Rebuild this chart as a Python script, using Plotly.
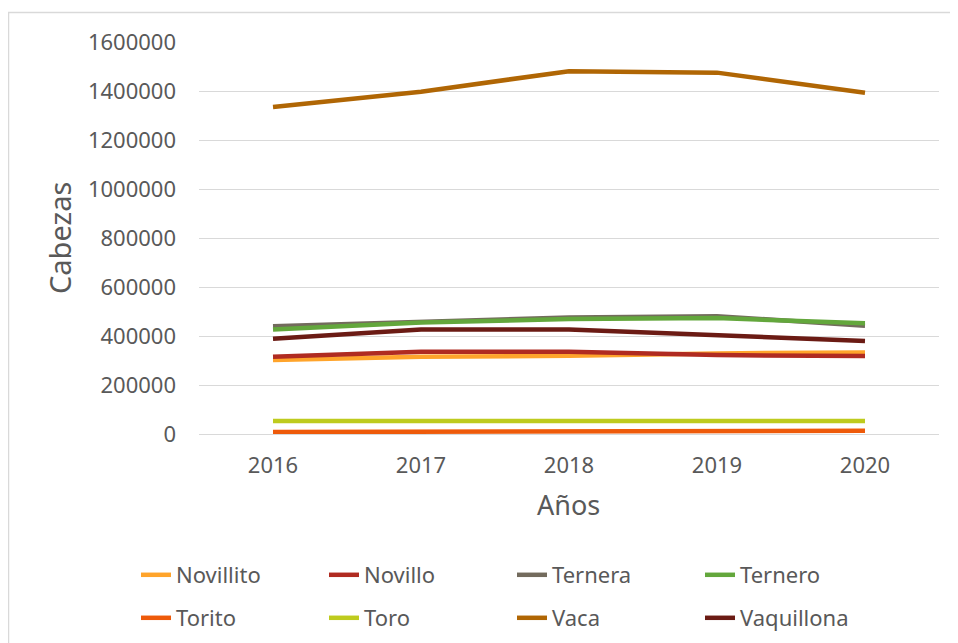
import plotly.graph_objects as go

years = ["2016", "2017", "2018", "2019", "2020"]

novillito = [302000, 315000, 319000, 329000, 333000]
novillo = [315000, 336000, 336000, 322000, 318000]
ternera = [440000, 458000, 476000, 481000, 442000]
ternero = [427000, 455000, 469000, 473000, 452000]
torito = [8000, 9000, 11000, 12000, 13000]
toro = [53000, 53000, 54500, 54000, 53000]
vaca = [1335000, 1397000, 1481000, 1475000, 1393000]
vaquillona = [389000, 427000, 427000, 404000, 380000]

series = [
    ("Novillito", novillito, "#FFA42B", "legend"),
    ("Novillo", novillo, "#B02B21", "legend"),
    ("Ternera", ternera, "#736B5D", "legend"),
    ("Ternero", ternero, "#63A73C", "legend"),
    ("Torito", torito, "#EE5A0A", "legend2"),
    ("Toro", toro, "#BECB1E", "legend2"),
    ("Vaca", vaca, "#B06604", "legend2"),
    ("Vaquillona", vaquillona, "#6B1B14", "legend2"),
]

font_family = "Noto Sans, Lato, sans-serif"
text_color = "#595959"
grid_color = "#D9D9D9"

fig = go.Figure()
for name, vals, color, lg in series:
    fig.add_trace(go.Scatter(
        x=years, y=vals, name=name, mode="lines",
        line=dict(color=color, width=4.5),
        legend=lg,
    ))

# page is offset by the 8px body margin
OFF = 8
W, H = 950, 635
L, T = 199 - OFF, 42 - OFF
pw, ph = 740, 392
R, B = W - L - pw, H - T - ph


def px(x):
    return (x - OFF - L) / pw


def py(y):
    return (H - B - (y - OFF)) / ph


legend_common = dict(
    orientation="h", xanchor="left", yanchor="middle",
    font=dict(family=font_family, size=22, color=text_color),
    entrywidth=143, entrywidthmode="pixels",
    bgcolor="rgba(0,0,0,0)", itemwidth=30,
)

fig.update_layout(
    width=W, height=H,
    margin=dict(l=L, r=R, t=T, b=B, autoexpand=False),
    paper_bgcolor="white", plot_bgcolor="white",
    font=dict(family=font_family, color=text_color),
    xaxis=dict(
        type="category", range=[-0.5, 4.5],
        showgrid=False, showline=False, zeroline=False,
        tickfont=dict(family=font_family, size=22, color=text_color),
        ticks="", ticklabelstandoff=16, automargin=False,
    ),
    yaxis=dict(
        range=[0, 1600000], dtick=200000, tickformat="d",
        showgrid=True, gridcolor=grid_color, gridwidth=1.3,
        zeroline=True, zerolinecolor=grid_color, zerolinewidth=1.3,
        showline=False, automargin=False,
        tickfont=dict(family=font_family, size=22, color=text_color),
        ticks="", ticklabelstandoff=22,
    ),
    legend=dict(x=px(136), y=py(575), **legend_common),
    legend2=dict(x=px(136), y=py(618), **legend_common),
    annotations=[
        dict(text="Cabezas", xref="paper", yref="paper",
             x=px(59), y=py(238), xanchor="center", yanchor="middle",
             textangle=-90, showarrow=False,
             font=dict(family=font_family, size=29, color=text_color)),
        dict(text="Años", xref="paper", yref="paper",
             x=px(568), y=py(504), xanchor="center", yanchor="middle",
             showarrow=False,
             font=dict(family=font_family, size=27, color=text_color)),
    ],
    shapes=[
        dict(type="rect", xref="paper", yref="paper",
             x0=px(8.5), x1=px(990), y0=py(12.5), y1=py(700),
             line=dict(color=grid_color, width=1.5), layer="below"),
    ],
)

fig.write_html("out.html")
